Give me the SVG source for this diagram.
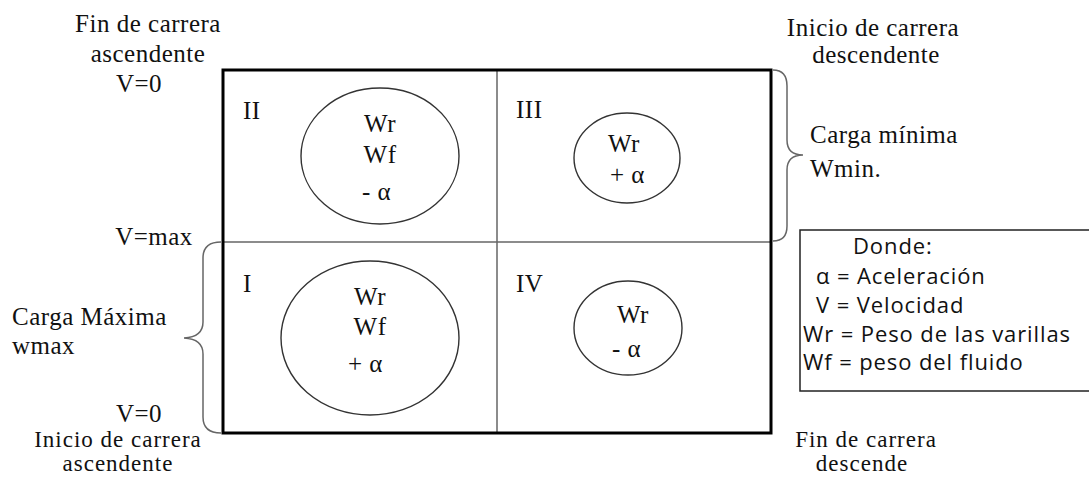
<svg xmlns="http://www.w3.org/2000/svg" width="1089" height="477" viewBox="0 0 1089 477">
<style>
.s{font-family:"Liberation Serif","Times New Roman",serif;font-size:25px;fill:#111;letter-spacing:0.5px}
.t{font-size:23px;letter-spacing:1px}
.m{text-anchor:middle}
.l{font-family:"Open Sans","Noto Sans",sans-serif;font-size:22px;fill:#111;letter-spacing:0.9px}
.ell{fill:none;stroke:#333;stroke-width:1.4}
.br{fill:none;stroke:#666;stroke-width:1.5}
</style>
<rect width="1089" height="477" fill="#fff"/>
<g id="frame">
<line x1="223" y1="242" x2="771" y2="242" stroke="#666" stroke-width="1.5"/>
<line x1="497" y1="70" x2="497" y2="433" stroke="#666" stroke-width="1.5"/>
<rect x="223" y="70" width="548" height="363" fill="none" stroke="#000" stroke-width="3"/>
</g>
<g id="connectors">
<path class="br" d="M221,242 Q203,242 203,258 L203,322 Q203,337 184,338 Q203,339 203,354 L203,417 Q203,433 221,433"/>
<path class="br" d="M773,70 Q787,70 787,86 L787,140 Q787,155 803,155 Q787,155 787,170 L787,226 Q787,241 773,241"/>
</g>
<g id="q2">
<text class="s" x="243" y="119">II</text>
<ellipse class="ell" cx="380" cy="156" rx="79" ry="68"/>
<text class="s m" x="380" y="132">Wr</text>
<text class="s m" x="380" y="163">Wf</text>
<text class="s" x="362" y="200">- α</text>
</g>
<g id="q3">
<text class="s" x="516" y="118">III</text>
<ellipse class="ell" cx="627" cy="158" rx="53" ry="45"/>
<text class="s" x="608" y="152">Wr</text>
<text class="s" x="610" y="183">+ α</text>
</g>
<g id="q1">
<text class="s" x="243" y="292">I</text>
<ellipse class="ell" cx="370" cy="338" rx="89" ry="77"/>
<text class="s m" x="370" y="305">Wr</text>
<text class="s m" x="370" y="335">Wf</text>
<text class="s" x="348" y="372">+ α</text>
</g>
<g id="q4">
<text class="s" x="516" y="292">IV</text>
<ellipse class="ell" cx="628" cy="328" rx="54" ry="47"/>
<text class="s" x="617" y="323">Wr</text>
<text class="s" x="612" y="357">- α</text>
</g>
<g id="labels-left">
<text class="s m" x="148" y="32">Fin de carrera</text>
<text class="s m" x="148" y="62">ascendente</text>
<text class="s m" x="139" y="92">V=0</text>
<text class="s m" x="154" y="245">V=max</text>
<text class="s" x="12" y="325">Carga Máxima</text>
<text class="s" x="12" y="354">wmax</text>
<text class="s m" x="139" y="422">V=0</text>
<text class="s t m" x="118" y="447">Inicio de carrera</text>
<text class="s t m" x="118" y="471">ascendente</text>
</g>
<g id="labels-right">
<text class="s m" x="873" y="36">Inicio de carrera</text>
<text class="s m" x="876" y="63">descendente</text>
<text class="s" x="810" y="143">Carga mínima</text>
<text class="s" x="810" y="177">Wmin.</text>
<text class="s t m" x="866" y="447">Fin de carrera</text>
<text class="s t m" x="862" y="471">descende</text>
</g>
<g id="legend">
<rect x="800" y="230" width="300" height="161" fill="#fff" stroke="#222" stroke-width="1.5"/>
<text class="l" x="853" y="254">Donde:</text>
<text class="l" x="816" y="284">α = Aceleración</text>
<text class="l" x="816" y="313">V = Velocidad</text>
<text class="l" x="803" y="342">Wr = Peso de las varillas</text>
<text class="l" x="803" y="370">Wf = peso del fluido</text>
</g>
</svg>
